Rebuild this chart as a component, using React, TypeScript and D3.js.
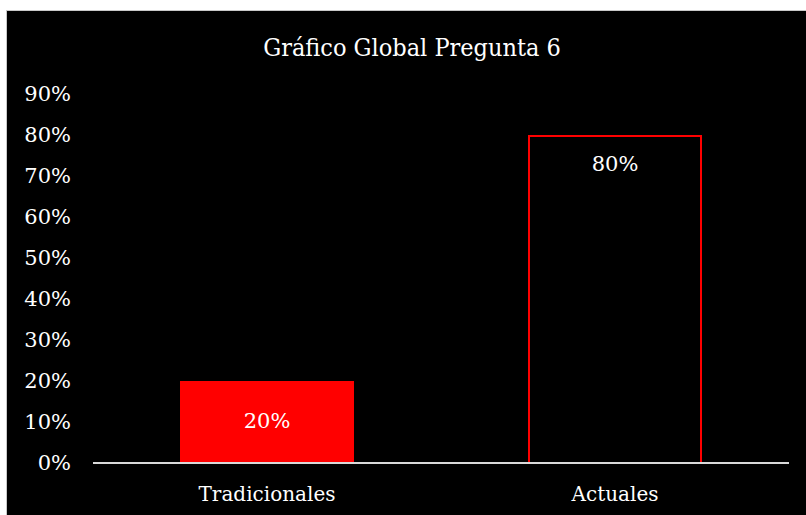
import React from "react";
import * as d3 from "d3";

const categories = ["Tradicionales", "Actuales"];
const values = [0.2, 0.8];
const tickValues = [0, 0.1, 0.2, 0.3, 0.4, 0.5, 0.6, 0.7, 0.8, 0.9];
const title = "Gráfico Global Pregunta 6";

export default function App() {
  const W = 806, H = 515;
  const left = 93, right = 789, top = 94, bottom = 463;
  const x = d3.scaleBand<string>().domain(categories).range([left, right]).paddingInner(0.5).paddingOuter(0.25);
  const y = d3.scaleLinear().domain([0, 0.9]).range([bottom, top]);
  const fmt = d3.format(".0%");
  const font = "'DejaVu Serif', serif";
  return (
    <svg width={W} height={H} style={{ position: "absolute", left: 0, top: 0 }} fontFamily={font}>
      <rect x={0} y={0} width={W} height={H} fill="#ffffff" />
      <rect x={6} y={10} width={W - 6} height={H - 10} fill="#c8c8c8" />
      <rect x={7} y={11} width={W - 7} height={H - 11} fill="#000000" />
      <text x={412} y={47} textAnchor="middle" dy="0.35em" fill="#ffffff" fontSize={25} fontFamily="'DejaVu Serif Condensed', 'DejaVu Serif', serif" style={{ fontStretch: "condensed" }}>{title}</text>
      {tickValues.map((t) => (
        <text key={t} x={71} y={y(t)} dy="0.35em" textAnchor="end" fill="#ffffff" fontSize={21}>{fmt(t)}</text>
      ))}
      {categories.map((c, i) => {
        const bx = x(c)!;
        const bw = x.bandwidth();
        const by = y(values[i]);
        const filled = i === 0;
        return (
          <g key={c}>
            {filled ? (
              <rect x={bx} y={by} width={bw} height={bottom - by} fill="#ff0000" />
            ) : (
              <rect x={bx + 1} y={by + 1} width={bw - 2} height={bottom - by - 1} fill="none" stroke="#ff0000" strokeWidth={2} />
            )}
            <text x={bx + bw / 2} y={filled ? (by + bottom) / 2 - 1 : by + 29} textAnchor="middle" dy="0.35em" fill="#ffffff" fontSize={21}>{fmt(values[i])}</text>
            <text x={bx + bw / 2} y={494} textAnchor="middle" dy="0.35em" fill="#ffffff" fontSize={20}>{c}</text>
          </g>
        );
      })}
      <line x1={left} x2={right} y1={bottom} y2={bottom} stroke="#d9d9d9" strokeWidth={2} />
    </svg>
  );
}
